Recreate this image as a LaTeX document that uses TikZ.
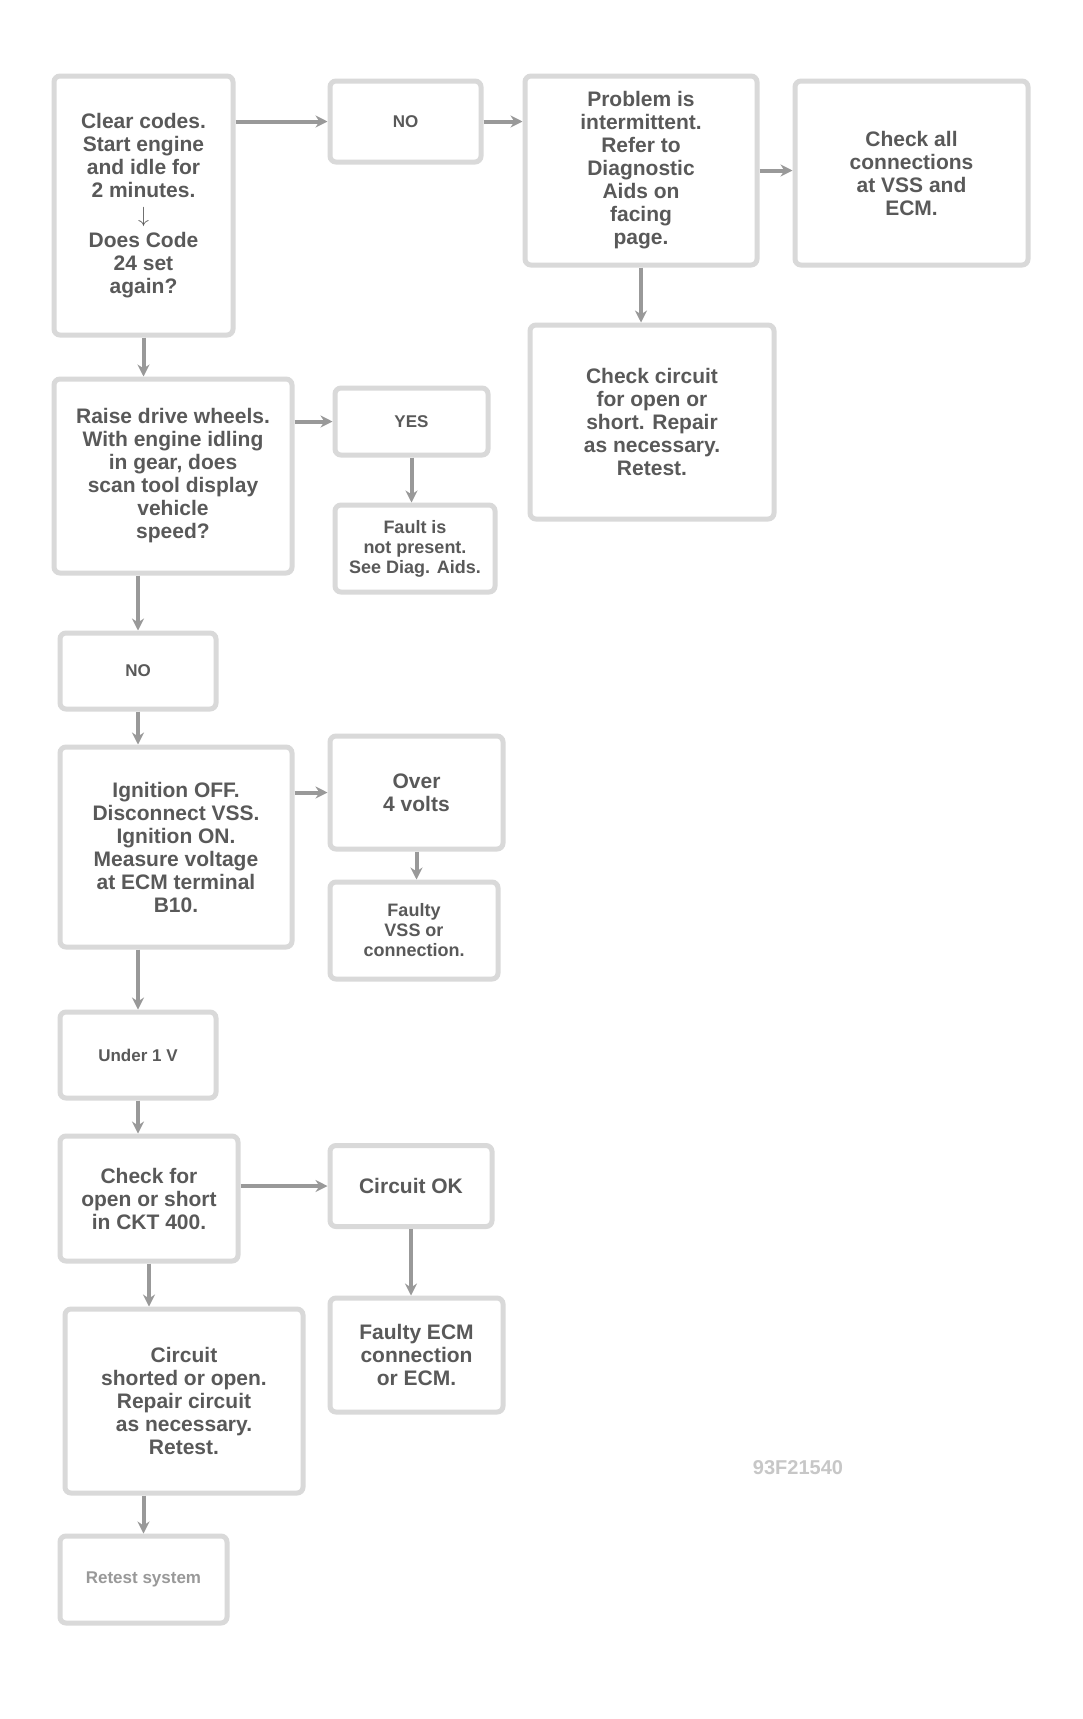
\documentclass[tikz,border=0pt]{standalone}
\usepackage{fontspec}
\setmainfont{Liberation Sans}
\usetikzlibrary{arrows.meta}
\begin{document}
\begin{tikzpicture}[x=0.5pt,y=-0.5pt,
  box/.style={draw=black!15, line width=2.5pt, rounded corners=3pt, align=center, inner sep=2pt,
    font=\bfseries\fontsize{10.5}{11.5}\selectfont, text=black!65},
  smallbox/.style={box, font=\bfseries\fontsize{9}{10}\selectfont},
  ans/.style={box, font=\bfseries\fontsize{8.5}{9.5}\selectfont},
  conn/.style={draw=black!40, line width=2pt, -{Stealth[length=6pt,width=6pt]}},
  figcode/.style={font=\bfseries\fontsize{10}{11}\selectfont, text=black!22}
]
\fill[white] (0,0) rectangle (1082,1719);
\useasboundingbox (0,0) rectangle (1082,1719);

% top row
\node[box, minimum width=89.5pt, minimum height=129.5pt] (b1) at (143.5,205.5)
  {Clear codes.\\Start engine\\and idle for\\2 minutes.\\[1pt]$\downarrow$\\[1pt]Does Code\\24 set\\again?};
\node[ans, minimum width=75.5pt, minimum height=40.5pt] (b2) at (405.5,121.5) {NO};
\node[box, minimum width=116pt, minimum height=94.5pt] (b3) at (641,170.5)
  {Problem is\\intermittent.\\Refer to\\Diagnostic\\Aids on\\facing\\page.};
\node[box, minimum width=116.5pt, minimum height=92pt] (b4) at (911.5,173)
  {Check all\\connections\\at VSS and\\ECM.};
\node[box, minimum width=122pt, minimum height=97pt] (b5) at (652,422)
  {Check circuit\\for open or\\short. Repair\\as necessary.\\Retest.};

% left column
\node[box, minimum width=119pt, minimum height=97pt] (b6) at (173,476)
  {Raise drive wheels.\\With engine idling\\in gear, does\\scan tool display\\vehicle\\speed?};
\node[ans, minimum width=76.5pt, minimum height=33.5pt] (b7) at (411.5,421.5) {YES};
\node[smallbox, minimum width=80pt, minimum height=43.5pt] (b8) at (415,548.5)
  {Fault is\\not present.\\See Diag. Aids.};
\node[ans, minimum width=78pt, minimum height=38pt] (b9) at (138,671) {NO};
\node[box, minimum width=116pt, minimum height=100pt] (b10) at (176,847)
  {Ignition OFF.\\Disconnect VSS.\\Ignition ON.\\Measure voltage\\at ECM terminal\\B10.};
\node[box, minimum width=86.5pt, minimum height=56.5pt] (b11) at (416.5,792.5)
  {Over\\4 volts};
\node[smallbox, minimum width=84pt, minimum height=48.5pt] (b12) at (414,930.5)
  {Faulty\\VSS or\\connection.};
\node[ans, minimum width=78pt, minimum height=43pt] (b13) at (138,1055) {Under 1 V};
\node[box, minimum width=89pt, minimum height=62.5pt] (b14) at (149,1198.5)
  {Check for\\open or short\\in CKT 400.};
\node[box, minimum width=81pt, minimum height=40.5pt] (b15) at (411,1186)
  {Circuit OK};
\node[box, minimum width=86.5pt, minimum height=57pt] (b16) at (416.5,1355)
  {Faulty ECM\\connection\\or ECM.};
\node[box, minimum width=119pt, minimum height=92pt] (b17) at (184,1401)
  {Circuit\\shorted or open.\\Repair circuit\\as necessary.\\Retest.};
\node[ans, minimum width=83.5pt, minimum height=43.5pt, text=black!40] (b18) at (143.5,1579.5)
  {Retest system};

\node[figcode] (fig) at (798,1468) {93F21540};

% connectors
\draw[conn] (b2.west -| b1.east) -- (b2.west);
\draw[conn] (b2.east) -- (b2.east -| b3.west);
\draw[conn] (b3.east) -- (b3.east -| b4.west);
\draw[conn] (b3.south) -- (b3.south |- b5.north);
\draw[conn] (b1.south) -- (b1.south |- b6.north);
\draw[conn] (b7.west -| b6.east) -- (b7.west);
\draw[conn] (b7.south) -- (b7.south |- b8.north);
\draw[conn] (b9.north |- b6.south) -- (b9.north);
\draw[conn] (b9.south) -- (b9.south |- b10.north);
\draw[conn] (b11.west -| b10.east) -- (b11.west);
\draw[conn] (b11.south) -- (b11.south |- b12.north);
\draw[conn] (b13.north |- b10.south) -- (b13.north);
\draw[conn] (b13.south) -- (b13.south |- b14.north);
\draw[conn] (b15.west -| b14.east) -- (b15.west);
\draw[conn] (b15.south) -- (b15.south |- b16.north);
\draw[conn] (b14.south) -- (b14.south |- b17.north);
\draw[conn] (b18.north |- b17.south) -- (b18.north);
\end{tikzpicture}
\end{document}
